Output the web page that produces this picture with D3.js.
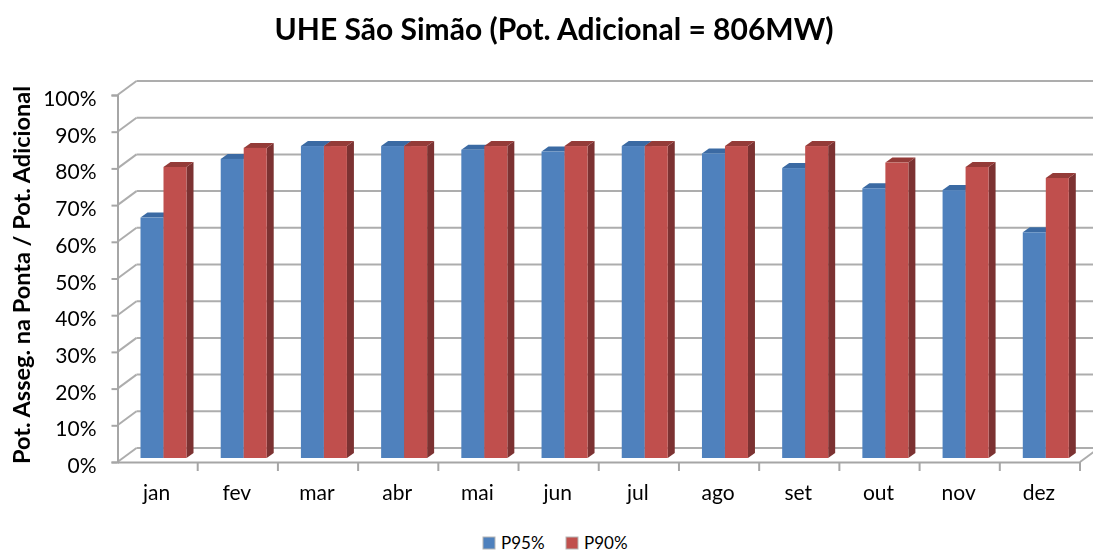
<!DOCTYPE html>
<html>
<head>
<meta charset="utf-8">
<script src="https://cdn.jsdelivr.net/npm/d3@7"></script>
<style>
html, body { margin: 0; padding: 0; background: #fff; }
svg { display: block; }
text { font-family: Lato, "Open Sans", sans-serif; fill: #000; }
</style>
</head>
<body>
<script>
var months = ['jan', 'fev', 'mar', 'abr', 'mai', 'jun', 'jul', 'ago', 'set', 'out', 'nov', 'dez'];
var seriesNames = ['P95%', 'P90%'];
var p95 = [65.5, 81.5, 85, 85, 84, 83.5, 85, 83, 79, 73.5, 73, 61.5];
var p90 = [79.3, 84.5, 85, 85, 85, 85, 85, 85, 85, 80.5, 79.3, 76.3];
var yTicks = [0, 10, 20, 30, 40, 50, 60, 70, 80, 90, 100];

var svgWidth = 1093;
var svgHeight = 553;
var frontColors = ['#4f81bd', '#c0504d'];
var topColors = ['#3b6ba3', '#943b39'];
var sideColors = ['#335c8c', '#7b3230'];

// deslocamento da parede do fundo e profundidade das barras
var wallDx = 19, wallDy = -14;
var barDx = 7, barDy = -5;

var xScale = d3.scaleBand().domain(months).range([117.5, 1080]);
var serieScale = d3.scaleBand().domain(seriesNames).range([23, 69]);
var yScale = d3.scaleLinear().domain([0, 100]).range([462, 95]);
var barBase = 458;
function barHeight(v) { return yScale(0) - yScale(v); }

var svg = d3.select('body')
	.append('svg')
	.attr('width', svgWidth)
	.attr('height', svgHeight);

var defs = svg.append('defs');
defs.append('filter')
	.attr('id', 'soft')
	.attr('x', '-5%').attr('y', '-5%').attr('width', '110%').attr('height', '110%')
	.append('feGaussianBlur')
	.attr('stdDeviation', 0.45);

var vizG = svg.append('g').attr('filter', 'url(#soft)');

// grade: linha do fundo + diagonal ate o eixo
var gridG = vizG.append('g').attr('id', 'gridGroup');
gridG.selectAll('line.back')
	.data(yTicks)
	.enter()
	.append('line')
	.attr('class', 'back')
	.attr('x1', xScale.range()[0] + wallDx)
	.attr('x2', svgWidth)
	.attr('y1', function(d) { return yScale(d) + wallDy; })
	.attr('y2', function(d) { return yScale(d) + wallDy; })
	.attr('stroke', '#adadad')
	.attr('stroke-width', 2);
gridG.selectAll('line.diag')
	.data(yTicks)
	.enter()
	.append('line')
	.attr('class', 'diag')
	.attr('x1', xScale.range()[0])
	.attr('x2', xScale.range()[0] + wallDx)
	.attr('y1', function(d) { return yScale(d); })
	.attr('y2', function(d) { return yScale(d) + wallDy; })
	.attr('stroke', '#adadad')
	.attr('stroke-width', 2);
gridG.append('line')
	.attr('x1', xScale.range()[1])
	.attr('x2', xScale.range()[1] + wallDx)
	.attr('y1', yScale(0))
	.attr('y2', yScale(0) + wallDy)
	.attr('stroke', '#adadad')
	.attr('stroke-width', 2);

// eixos
var yAxisG = vizG.append('g')
	.attr('transform', 'translate(' + xScale.range()[0] + ',0)')
	.call(d3.axisLeft(yScale).tickValues(yTicks).tickSize(6).tickPadding(15)
		.tickFormat(function(d) { return d + '%'; }));
var xAxisG = vizG.append('g')
	.attr('transform', 'translate(0,' + yScale(0) + ')')
	.call(d3.axisBottom(xScale).tickSize(0).tickPadding(23));
xAxisG.selectAll('.tick').append('line')
	.attr('x1', xScale.bandwidth() / 2)
	.attr('x2', xScale.bandwidth() / 2)
	.attr('y1', 0)
	.attr('y2', 9);
xAxisG.append('line')
	.attr('x1', xScale.range()[0])
	.attr('x2', xScale.range()[0])
	.attr('y1', 0)
	.attr('y2', 9);
vizG.selectAll('.domain, .tick line')
	.attr('stroke', '#a6a6a6')
	.attr('stroke-width', 2);
yAxisG.selectAll('text').style('font-size', '21px').attr('dy', '0.5em');
xAxisG.selectAll('text').style('font-size', '21px');
xAxisG.selectAll('.tick text').attr('dx', -1);

// barras
var barsData = [];
months.forEach(function(m, i) {
	barsData.push({month: m, serie: 0, value: p95[i]});
	barsData.push({month: m, serie: 1, value: p90[i]});
});
var barG = vizG.append('g').attr('id', 'barGroup')
	.selectAll('g.bar')
	.data(barsData)
	.enter()
	.append('g')
	.attr('class', 'bar')
	.attr('transform', function(d) {
		return 'translate(' + (xScale(d.month) + serieScale(seriesNames[d.serie])) + ',' + barBase + ')';
	});
var bw = serieScale.bandwidth();
barG.append('path')
	.attr('fill', function(d) { return sideColors[d.serie]; })
	.attr('d', function(d) {
		var h = barHeight(d.value);
		return 'M' + bw + ',0L' + (bw + barDx) + ',' + barDy + 'L' + (bw + barDx) + ',' + (barDy - h) + 'L' + bw + ',' + (-h) + 'Z';
	});
barG.append('path')
	.attr('fill', function(d) { return topColors[d.serie]; })
	.attr('d', function(d) {
		var h = barHeight(d.value);
		return 'M0,' + (-h) + 'L' + barDx + ',' + (barDy - h) + 'L' + (bw + barDx) + ',' + (barDy - h) + 'L' + bw + ',' + (-h) + 'Z';
	});
barG.append('rect')
	.attr('fill', function(d) { return frontColors[d.serie]; })
	.attr('x', 0)
	.attr('width', bw)
	.attr('y', function(d) { return -barHeight(d.value); })
	.attr('height', function(d) { return barHeight(d.value); });

// titulos
var textG = svg.append('g').attr('filter', 'url(#soft)');
textG.append('text')
	.attr('x', 554)
	.attr('y', 40)
	.attr('text-anchor', 'middle')
	.style('font-size', '30px')
	.style('font-weight', 'bold')
	.text('UHE São Simão (Pot. Adicional = 806MW)');
textG.append('text')
	.attr('transform', 'translate(30,275) rotate(-90)')
	.attr('text-anchor', 'middle')
	.style('font-size', '23.5px')
	.style('font-weight', 'bold')
	.text('Pot. Asseg. na Ponta / Pot. Adicional');

// legenda
var legendX = d3.scalePoint().domain(seriesNames).range([483, 566]);
var legendG = svg.append('g').attr('id', 'legendGroup')
	.selectAll('g')
	.data(seriesNames)
	.enter()
	.append('g')
	.attr('transform', function(d) { return 'translate(' + legendX(d) + ',537)'; });
legendG.append('rect')
	.attr('width', 12)
	.attr('height', 12)
	.attr('fill', function(d, i) { return frontColors[i]; })
	.attr('stroke', '#b5b5b5');
legendG.append('text')
	.attr('x', 18)
	.attr('y', 12)
	.style('font-size', '17px')
	.text(function(d) { return d; });
</script>
</body>
</html>
